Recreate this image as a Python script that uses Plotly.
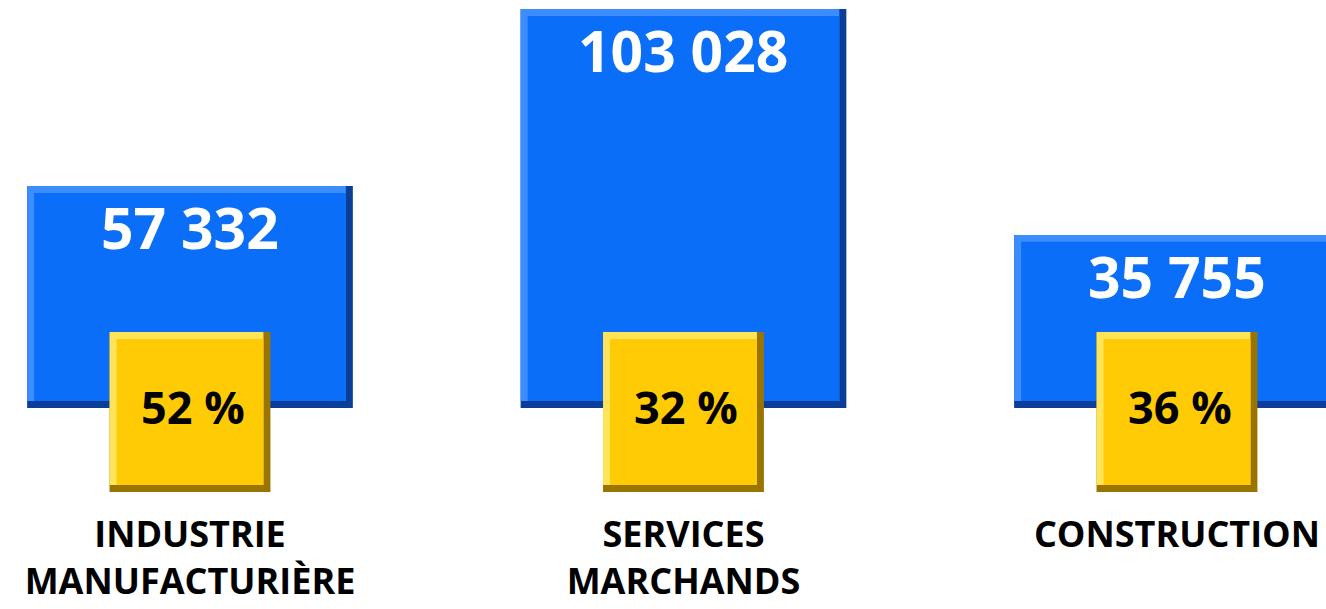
import plotly.graph_objects as go

categories = ["INDUSTRIE<br>MANUFACTURIÈRE", "SERVICES<br>MARCHANDS", "CONSTRUCTION"]
values = [57332, 103028, 35755]
# bar heights as drawn in the reference (the third bar is drawn taller than its value)
bar_heights = [57332, 103028, 44700]
shares = [52, 32, 36]
value_labels = ["57 332", "103 028", "35 755"]
share_labels = ["52 %", "32 %", "36 %"]

BLUE = "#0A6EF8"
BLUE_LIGHT = "#3C8DFF"
BLUE_DARK = "#0A3E98"
YELLOW = "#FFCB05"
YELLOW_LIGHT = "#FFE45A"
YELLOW_DARK = "#9A7400"

# yellow badge extent (data units, same for every category)
badge_low = -21700
badge_high = 19600

BAR_W = 0.66
BADGE_W = 0.326
BEV_X = 0.0142   # bevel thickness along x (category units)
BEV_Y = 1800     # bevel thickness along y (data units)

n = len(categories)
fig = go.Figure()


def bevel_bar(base, top, width, c_main, c_light, c_dark):
    bases = base if isinstance(base, list) else [base] * n
    tops = top
    # dark (full)
    fig.add_trace(go.Bar(
        x=categories, y=[t - b for t, b in zip(tops, bases)], base=bases, width=width,
        marker=dict(color=c_dark, line=dict(width=0)), hoverinfo="skip", showlegend=False,
    ))
    # light (top + left edges)
    fig.add_trace(go.Bar(
        x=categories, y=[t - b - BEV_Y for t, b in zip(tops, bases)],
        base=[b + BEV_Y for b in bases], width=width - BEV_X, offset=-width / 2,
        marker=dict(color=c_light, line=dict(width=0)), hoverinfo="skip", showlegend=False,
    ))
    # main face
    fig.add_trace(go.Bar(
        x=categories, y=[t - b - 2 * BEV_Y for t, b in zip(tops, bases)],
        base=[b + BEV_Y for b in bases], width=width - 2 * BEV_X, offset=-width / 2 + BEV_X,
        marker=dict(color=c_main, line=dict(width=0)), hoverinfo="skip", showlegend=False,
    ))


bevel_bar(0, bar_heights, BAR_W, BLUE, BLUE_LIGHT, BLUE_DARK)
bevel_bar(badge_low, [badge_high] * n, BADGE_W, YELLOW, YELLOW_LIGHT, YELLOW_DARK)

for c, v, lab in zip(categories, bar_heights, value_labels):
    fig.add_annotation(
        x=c, y=v, text=f"<b>{lab}</b>", showarrow=False, yanchor="top", yshift=0,
        font=dict(family="Open Sans", size=57, color="white"),
    )

for c, lab in zip(categories, share_labels):
    fig.add_annotation(
        x=c, y=0, text=f"<b>{lab}</b>", showarrow=False, yanchor="middle", yshift=2, xshift=3,
        font=dict(family="Open Sans", size=45, color="black"),
    )

fig.update_layout(
    width=1326, height=609,
    margin=dict(l=0, r=0, t=0, b=109),
    paper_bgcolor="white", plot_bgcolor="white",
    barmode="overlay",
    xaxis=dict(range=[-0.385, 2.302], showgrid=False, zeroline=False, showline=False,
               automargin=False,
               ticks="", tickfont=dict(family="Open Sans", size=36, color="black", weight="bold"),
               ticklabelstandoff=10),
    yaxis=dict(range=[-23755, 105345], visible=False, showgrid=False, zeroline=False,
               automargin=False),
)

fig.write_html("out.html", config={"displayModeBar": False},
               post_script="document.body.style.margin='0';document.body.style.overflow='hidden';")
